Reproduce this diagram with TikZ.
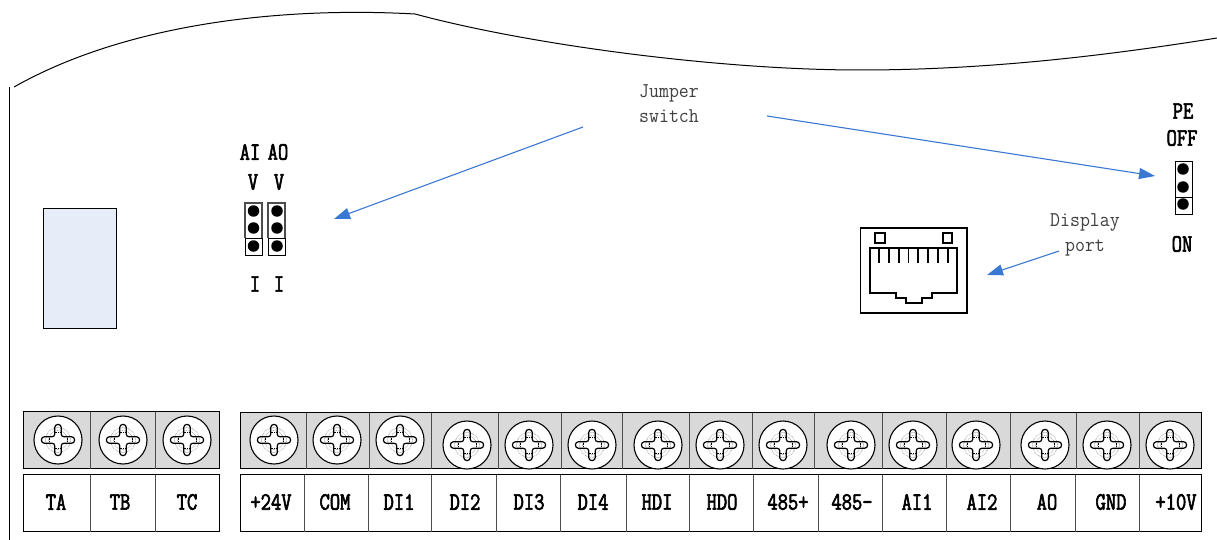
\documentclass[tikz,border=0pt]{standalone}
\usepackage{fontspec}
\setmonofont{Latin Modern Mono}
\newfontfamily\labfont[FakeStretch=0.8,FakeBold=2.4]{Latin Modern Mono}
\newfontfamily\notefont[FakeStretch=0.92]{Latin Modern Mono}
\usetikzlibrary{arrows.meta}
\definecolor{arrowblue}{HTML}{3A78D4}
\definecolor{blockgray}{HTML}{D9D9D9}
\definecolor{panelblue}{HTML}{E7EDF8}
\tikzset{
  lab/.style={inner sep=0pt,font=\labfont\fontsize{25}{25}\selectfont},
  note/.style={inner sep=0pt,align=center,text=black!75,font=\notefont\fontsize{21}{25}\selectfont},
  conn/.style={arrowblue,line width=1.1pt,-{Triangle[length=16pt,width=11pt]}},
  block/.style={draw=black,line width=.9pt,fill=blockgray},
  cell/.style={draw=black,line width=.9pt,fill=white},
  divider/.style={draw=black!70,line width=1pt},
  pin/.style={circle,fill=black,inner sep=0pt,minimum size=11.5pt},
  jumper/.style={draw=black,line width=1pt,fill=white},
  pics/screw/.style={code={
    \draw[black,fill=white,line width=1.1pt] (0,0) circle[radius=24pt];
    \draw[black!70,line width=.5pt,densely dotted] (0,0) circle[radius=12.5pt];
    \draw[black!70,line width=.5pt,densely dotted] (0,0) circle[radius=9.5pt];
    \draw[black,line width=1.2pt,rounded corners=2.8pt]
      (-3.2pt,-3.2pt) -- (-3.2pt,-15.5pt) -- (3.2pt,-15.5pt) -- (3.2pt,-3.2pt)
      -- (16.5pt,-3.2pt) -- (16.5pt,3.2pt) -- (3.2pt,3.2pt)
      -- (3.2pt,15.5pt) -- (-3.2pt,15.5pt) -- (-3.2pt,3.2pt)
      -- (-16.5pt,3.2pt) -- (-16.5pt,-3.2pt) -- cycle;
    \draw[black,line width=.6pt,densely dotted]
      (-3.2pt,-8pt) -- (3.2pt,-8pt) (-3.2pt,8pt) -- (3.2pt,8pt)
      (-9pt,-3.2pt) -- (-9pt,3.2pt) (9pt,-3.2pt) -- (9pt,3.2pt);
  }}
}
\begin{document}
\begin{tikzpicture}[x=1pt,y=-1pt]
\useasboundingbox (0,0) rectangle (1217,540);
% housing
\draw[black,line width=1pt] (14,87) .. controls (120,27) and (270,6) .. (415,14)
  .. controls (530,45) and (720,70) .. (860,70)
  .. controls (990,70) and (1110,55) .. (1217,38);
\draw[black,line width=.9pt] (9.5,87) -- (9.5,540);
% panel
\node[draw=black,line width=.7pt,fill=panelblue,minimum width=73pt,minimum height=120pt,inner sep=0pt] (panel) at (79.5,268) {};
% terminal blocks, left
\path[block] (23.5,411.5) rectangle (219.5,468.5);
\path[cell] (23.5,474.5) rectangle (219.5,531.5);
\foreach \x in {90.5,155.5} {\draw[divider] (\x,411.5) -- (\x,468.5); \draw[divider] (\x,474.5) -- (\x,531.5);}
% terminal blocks, right
\path[block] (240.5,412.5) rectangle (1201.5,468.5);
\path[cell] (240.5,474.5) rectangle (1201.5,531.5);
\foreach \x in {306,369,431,498,561,622,689,752,814,882,946,1010,1076,1139} \draw[divider] (\x+.5,412.5) -- (\x+.5,468.5);
\foreach \x in {304,368,431,496,560,626,689,753,818,882,946,1010,1075,1139} \draw[divider] (\x+.5,474.5) -- (\x+.5,531.5);
% screws
\foreach \x in {58,123,187,274,337,400} \pic at (\x,440) {screw};
\foreach \x in {467,529,592,658,720,783,851,913,976,1045,1107,1170} \pic at (\x,445) {screw};
% terminal labels
\foreach \x/\t/\n in {56/TA/ta,120/TB/tb,187/TC/tc,271/+24V/p24,335/COM/com,399/DI1/dia,465/DI2/dib,529/DI3/dic,593/DI4/did,657/HDI/hdi,722/HDO/hdo,788/485+/rsp,852/485-/rsm,917/AI1/aia,982/AI2/aib,1047/AO/ao,1111/GND/gnd,1176/+10V/pten}
  \node[lab] (lab-\n) at (\x,502) {\t};
% AI / AO jumpers
\foreach \x/\p/\n in {245/253.5/a,268/277/b} {
  \draw[jumper] (\x,203) rectangle ++(17,52);
  \draw[jumper] (\x,238) -- ++(17,0);
  \draw[black!70,line width=1.6pt] (\x,238) -- ++(0,-35) -- ++(17,0) -- ++(0,35);
  \node[pin] (pin-\n1) at (\p,211) {};
  \node[pin] (pin-\n2) at (\p,228) {};
  \node[pin] (pin-\n3) at (\p,246) {};
}
\node[lab] (ai) at (250,152) {AI};
\node[lab] (aotop) at (278,152) {AO};
\node[lab] (va) at (253,182) {V};
\node[lab] (vb) at (279,182) {V};
\node[lab] (ia) at (255,284) {I};
\node[lab] (ib) at (279,284) {I};
% PE jumper
\draw[jumper] (1175,162) rectangle (1192,214);
\draw[jumper] (1175,197) -- (1192,197);
\node[pin] (pe1) at (1183,169) {};
\node[pin] (pe2) at (1183,187) {};
\node[pin] (pe3) at (1183,204) {};
\node[lab] (pe) at (1183,111) {PE};
\node[lab] (off) at (1182,138) {OFF};
\node[lab] (on) at (1182,244) {ON};
% display port
\draw[black,line width=1.8pt] (860.5,228) rectangle (967,313);
\draw[black,line width=1.5pt] (875,233) rectangle (885,243);
\draw[black,line width=1.5pt] (943,233) rectangle (952,243);
\draw[black,line width=1.6pt] (870,248) -- (957,248) -- (957,293) -- (932,293) -- (932,298) -- (922,298) -- (922,303)
  -- (906,303) -- (906,298) -- (896,298) -- (896,293) -- (870,293) -- cycle;
\foreach \x in {879,889,899,908.6,918,928,938,948} \draw[black,line width=1.5pt] (\x,248) -- (\x,263);
% notes
\node[note] (jumper) at (669,104) {Jumper\\switch};
\node[note] (display) at (1085,234.5) {Display\\port};
% arrows
\coordinate (jl) at (583,127);
\coordinate (jle) at (334,219);
\coordinate (jr) at (767,116);
\coordinate (jre) at (1155,176);
\coordinate (ds) at (1059,251);
\coordinate (dse) at (987,275);
\draw[conn] (jl) -- (jle);
\draw[conn] (jr) -- (jre);
\draw[conn] (ds) -- (dse);
\end{tikzpicture}
\end{document}
